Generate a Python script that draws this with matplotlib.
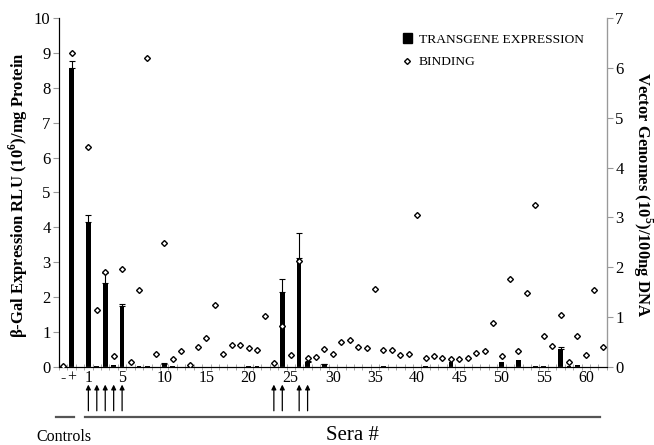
import numpy as np
import matplotlib
matplotlib.use("Agg")
import matplotlib.pyplot as plt
from matplotlib.lines import Line2D
from matplotlib.patches import Patch

plt.rcParams['font.family'] = ['Liberation Serif', 'DejaVu Serif']
plt.rcParams['mathtext.fontset'] = 'custom'
plt.rcParams['mathtext.rm'] = 'Liberation Serif'
plt.rcParams['mathtext.bf'] = 'Liberation Serif:bold'

# controls: "-" and "+"
ctrl_labels = ["-", "+"]
ctrl_expr = [0.0, 8.56]
ctrl_err = [0.0, 0.19]
ctrl_bind = [0.02, 6.3]

# sera 1..62
sera_expr = [4.15, 0.04, 2.4, 0.05, 1.76, 0.0, 0.02, 0.02, 0.0, 0.1,
             0.03, 0.0, 0.0, 0.0, 0.0, 0.0, 0.0, 0.0, 0.0, 0.02,
             0.02, 0.0, 0.0, 2.16, 0.0, 3.13, 0.15, 0.0, 0.08, 0.0,
             0.0, 0.0, 0.0, 0.0, 0.0, 0.02, 0.0, 0.0, 0.0, 0.0,
             0.02, 0.0, 0.0, 0.15, 0.0, 0.0, 0.0, 0.0, 0.0, 0.15,
             0.0, 0.2, 0.0, 0.03, 0.04, 0.0, 0.53, 0.02, 0.05, 0.0,
             0.0, 0.0]
sera_err = [0.2, 0.0, 0.3, 0.0, 0.06, 0.0, 0.0, 0.0, 0.0, 0.03,
            0.0, 0.0, 0.0, 0.0, 0.0, 0.0, 0.0, 0.0, 0.0, 0.0,
            0.0, 0.0, 0.0, 0.36, 0.0, 0.7, 0.03, 0.0, 0.02, 0.0,
            0.0, 0.0, 0.0, 0.0, 0.0, 0.0, 0.0, 0.0, 0.0, 0.0,
            0.0, 0.0, 0.0, 0.0, 0.0, 0.0, 0.0, 0.0, 0.0, 0.0,
            0.0, 0.0, 0.0, 0.0, 0.0, 0.0, 0.05, 0.0, 0.0, 0.0,
            0.0, 0.0]
sera_bind = [4.42, 1.15, 1.91, 0.23, 1.96, 0.1, 1.54, 6.2, 0.26, 2.49,
             0.17, 0.33, 0.05, 0.41, 0.59, 1.25, 0.27, 0.44, 0.45, 0.38,
             0.35, 1.03, 0.08, 0.82, 0.25, 2.12, 0.19, 0.21, 0.37, 0.27,
             0.5, 0.55, 0.41, 0.39, 1.57, 0.35, 0.35, 0.25, 0.27, 3.05,
             0.19, 0.23, 0.19, 0.17, 0.17, 0.19, 0.28, 0.33, 0.89, 0.23,
             1.77, 0.32, 1.49, 3.25, 0.63, 0.43, 1.05, 0.11, 0.63, 0.24,
             1.55, 0.41]
arrow_sera = [1, 2, 3, 4, 5, 23, 24, 26, 27]
sera_ticks = [1, 5, 10, 15, 20, 25, 30, 35, 40, 45, 50, 55, 60]

gray = "#999999"

ctrl_x = np.arange(len(ctrl_labels))
sera_x = np.arange(1, len(sera_expr) + 1) + 2
x = np.concatenate([ctrl_x, sera_x])
expr = np.array(ctrl_expr + sera_expr)
err = np.array(ctrl_err + sera_err)
bind = np.array(ctrl_bind + sera_bind)

fig = plt.figure(figsize=(6.54, 4.45), dpi=100)
ax = fig.add_axes([0.090, 0.175, 0.838, 0.785])

ax.bar(x, expr, width=0.55, color="black", zorder=2)
m = err > 0
ax.errorbar(x[m], expr[m], yerr=[np.zeros(m.sum()), err[m]], fmt="none",
            ecolor="black", elinewidth=0.8, capsize=2.5, capthick=0.8, zorder=3)

ax.set_xlim(-0.5, 64.5)
ax.set_ylim(0, 10)
ax.set_yticks(range(0, 11))
ax.tick_params(axis="y", labelsize=12, color=gray, length=4, width=0.8, pad=2)
ax.set_xticks(list(ctrl_x) + [s + 2 for s in sera_ticks])
ax.set_xticklabels(ctrl_labels + [str(s) for s in sera_ticks], fontsize=11.5)
ax.tick_params(axis="x", which="major", length=0, pad=2)
ax.set_xticks(np.arange(-0.5, 64.6, 1), minor=True)
ax.tick_params(axis="x", which="minor", direction="inout", length=5,
               width=0.6, color=gray)
ax.spines["top"].set_visible(False)
for s in ["left", "bottom", "right"]:
    ax.spines[s].set_color(gray)
    ax.spines[s].set_linewidth(0.9)

ax2 = ax.twinx()
ax2.plot(x, bind, linestyle="none", marker="D", markersize=3.0,
         markerfacecolor="white", markeredgecolor="black",
         markeredgewidth=1.0, zorder=4)
ax2.set_ylim(0, 7)
ax2.set_yticks(range(0, 8))
ax2.tick_params(axis="y", labelsize=12, color=gray, length=4, width=0.8, pad=2)
ax2.spines["top"].set_visible(False)
ax2.spines["right"].set_color(gray)

# axis titles
fig.text(18 / 654, 1 - 195 / 445,
         r"β-Gal Expression RLU (10$^\mathbf{6}$)/mg Protein",
         rotation=90, ha="center", va="center", fontsize=12, fontweight="bold")
fig.text(643 / 654, 1 - 195 / 445,
         r"Vector Genomes (10$^\mathbf{5}$)/100ng DNA",
         rotation=-90, ha="center", va="center", fontsize=12, fontweight="bold")

handles = [Patch(facecolor="black", edgecolor="black"),
           Line2D([], [], linestyle="none", marker="D", markersize=3.0,
                  markerfacecolor="white", markeredgecolor="black",
                  markeredgewidth=1.0)]
ax2.legend(handles, ["TRANSGENE EXPRESSION", "BINDING"], loc="upper left",
           bbox_to_anchor=(0.605, 0.99), frameon=False, fontsize=9.7,
           handlelength=0.7, handleheight=0.7, handletextpad=0.5,
           labelspacing=0.75)

# arrows under the axis
for s in arrow_sera:
    ax.annotate("", xy=(s + 2, -0.05), xytext=(s + 2, -0.125),
                xycoords=("data", "axes fraction"),
                textcoords=("data", "axes fraction"),
                arrowprops=dict(arrowstyle="-|>", color="black", lw=0.9,
                                mutation_scale=7, shrinkA=0, shrinkB=0),
                annotation_clip=False)

# group lines
ax.plot([-0.85, 1.3], [-0.142, -0.142], transform=ax.get_xaxis_transform(),
        color="#555555", lw=1.6, clip_on=False)
ax.plot([2.6, 63.7], [-0.142, -0.142], transform=ax.get_xaxis_transform(),
        color="#555555", lw=1.6, clip_on=False)
fig.text(64 / 654, 1 - 437 / 445, "Controls", ha="center", va="center",
         fontsize=11.5)
fig.text(352 / 654, 1 - 436 / 445, "Sera #", ha="center", va="center",
         fontsize=15)

fig.savefig("out.png", dpi=100)
